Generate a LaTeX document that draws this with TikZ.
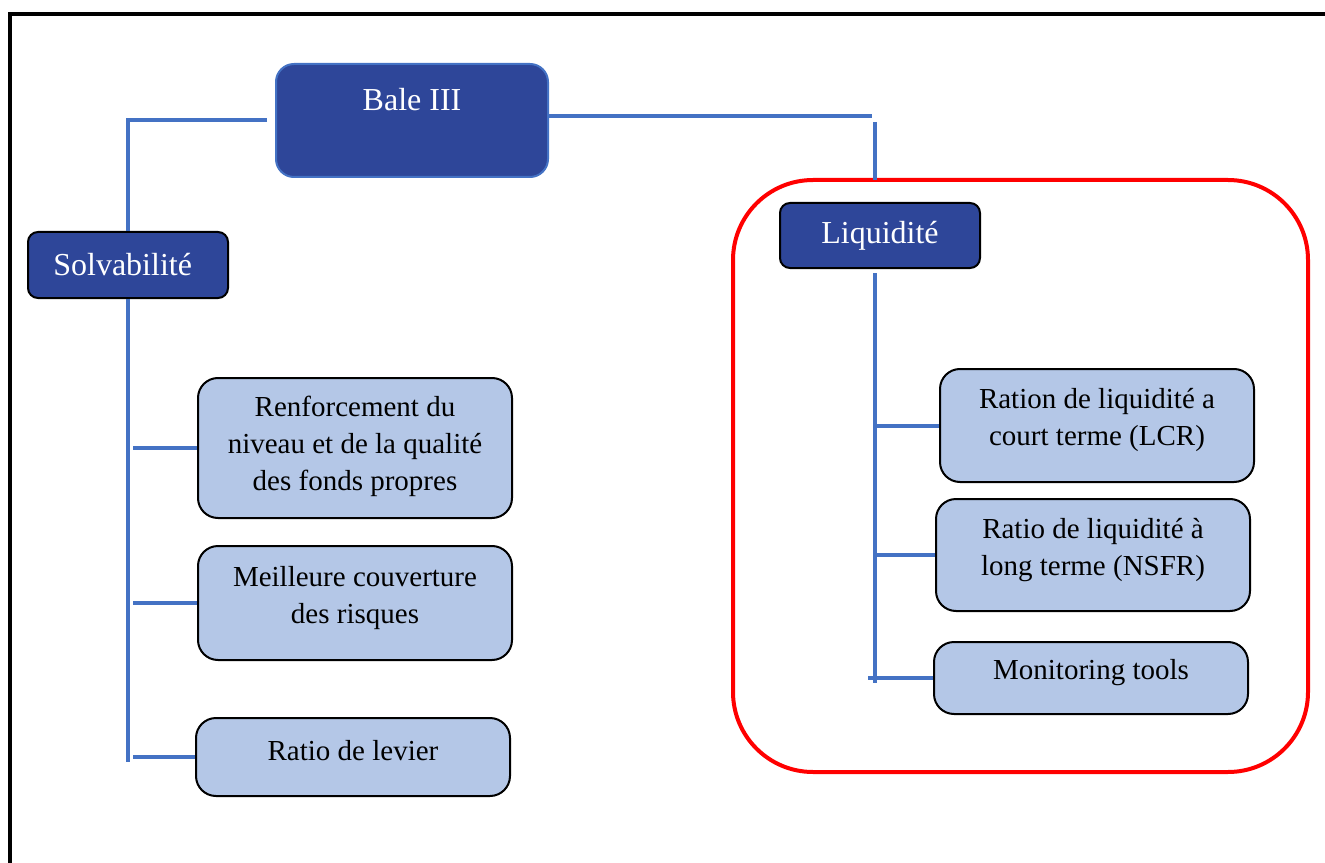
\documentclass[tikz,border=0pt]{standalone}
\usepackage{fontspec}
\setmainfont{Liberation Serif}
\definecolor{darkblue}{HTML}{2E4699}
\definecolor{lightfill}{HTML}{B4C7E7}
\definecolor{linkblue}{HTML}{4472C4}
\definecolor{zonered}{HTML}{FF0000}
\tikzset{
  darkbox/.style={draw=black, line width=1.5pt, fill=darkblue, rounded corners=7.5pt, inner sep=0pt},
  topbox/.style={draw=linkblue, line width=1.5pt, fill=darkblue, rounded corners=13.5pt, inner sep=0pt},
  lightbox/.style={draw=black, line width=1.5pt, fill=lightfill, rounded corners=15pt, inner sep=0pt},
  darktxt/.style={text=white, font=\fontsize{24}{28}\selectfont, inner sep=0pt},
  lighttxt/.style={text=black, font=\fontsize{21.75}{27.75}\selectfont, align=center, inner sep=0pt},
  link/.style={draw=linkblue, line width=3pt},
  zone/.style={draw=zonered, line width=3pt, rounded corners=60pt},
  frame/.style={draw=black, line width=3pt}
}
\begin{document}
\begin{tikzpicture}[x=0.75pt,y=-0.75pt]
\useasboundingbox (0,0) rectangle (1325,863);
% frame
\draw[frame] (10,863) -- (10,14) -- (1325,14);
% red zone
\draw[zone] (733,180) rectangle (1308,772);
\coordinate (zonetop) at (875,180);
% top node
\node[topbox, minimum width=204pt, minimum height=84.75pt] (bale) at (412,120.5) {};
\node[darktxt] (baletxt) at (412,100) {Bale III};
% level 1
\node[darkbox, minimum width=150pt, minimum height=49.5pt] (solv) at (128,265) {};
\node[darktxt] at ([xshift=-4pt]solv.center) {Solvabilit\'e};
\node[darkbox, minimum width=150pt, minimum height=48.75pt] (liq) at (880,235.5) {};
\node[darktxt] at (liq.center) {Liquidit\'e};
% left leaves
\node[lightbox, minimum width=235.5pt, minimum height=105pt] (b1) at (355,448) {};
\node[lighttxt] at ([yshift=1pt]b1.center) {Renforcement du\\niveau et de la qualit\'e\\des fonds propres};
\node[lightbox, minimum width=235.5pt, minimum height=85.5pt] (b2) at (355,603) {};
\node[lighttxt] at ([yshift=4pt]b2.center) {Meilleure couverture\\des risques};
\node[lightbox, minimum width=235.5pt, minimum height=58.5pt] (b3) at (353,757) {};
\node[lighttxt] at ([yshift=5pt]b3.center) {Ratio de levier};
% right leaves
\node[lightbox, minimum width=235.5pt, minimum height=84.75pt] (b4) at (1097,425.5) {};
\node[lighttxt] at ([yshift=4pt]b4.center) {Ration de liquidit\'e a\\court terme (LCR)};
\node[lightbox, minimum width=235.5pt, minimum height=84pt] (b5) at (1093,555) {};
\node[lighttxt] at ([yshift=4pt]b5.center) {Ratio de liquidit\'e \`a\\long terme (NSFR)};
\node[lightbox, minimum width=235.5pt, minimum height=54pt] (b6) at (1091,678) {};
\node[lighttxt] at ([yshift=4pt]b6.center) {Monitoring tools};
% spine coordinates
\coordinate (rspine) at (875,0);
\path ([yshift=3.375pt]bale.east) coordinate (baleout);
% connectors left
\draw[link] ([xshift=-6]bale.west) -| (solv.north);
\draw[link] (solv.south) -- (solv.south |- 0,762);
\draw[link] (b1.west) -- (b1.west -| 133,0);
\draw[link] (b2.west) -- (b2.west -| 133,0);
\draw[link] (b3.west) -- (b3.west -| 133,0);
% connectors right
\draw[link] (baleout) -- (baleout -| 872,0);
\draw[link] (rspine |- 0,122) -- (zonetop);
\draw[link] (rspine |- 0,273) -- (rspine |- 0,683);
\draw[link] (b4.west) -- (b4.west -| rspine);
\draw[link] (b5.west) -- (b5.west -| rspine);
\draw[link] (b6.west) -- (b6.west -| 868,0);
\end{tikzpicture}
\end{document}
